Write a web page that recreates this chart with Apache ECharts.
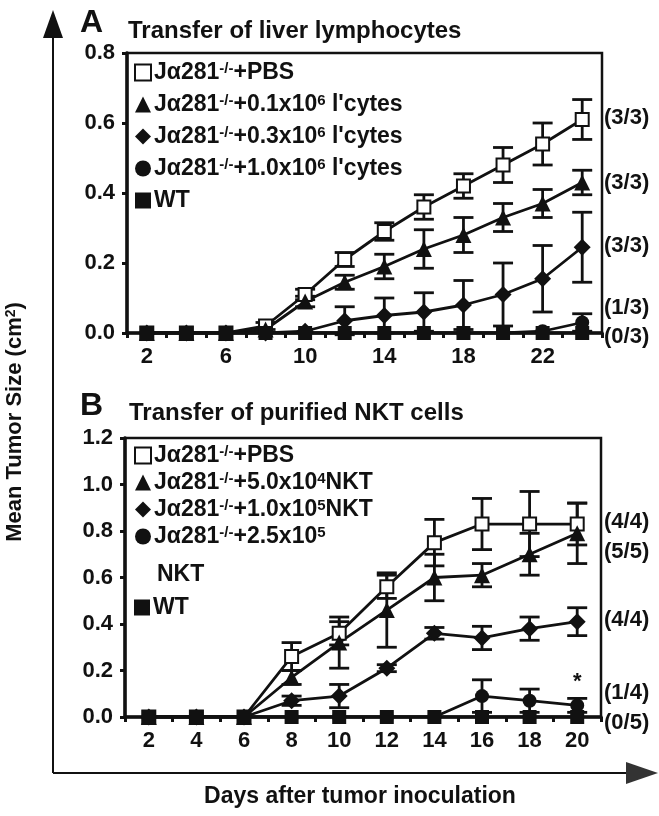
<!DOCTYPE html>
<html>
<head>
<meta charset="utf-8">
<title>Tumor size</title>
<script src="https://cdn.jsdelivr.net/npm/echarts@6/dist/echarts.min.js"></script>
<style>
  html, body { margin: 0; padding: 0; background: #fff; }
  #chart { width: 659px; height: 816px; }
</style>
</head>
<body>
<div id="chart"></div>
<script>
// ---- data: panel A (liver lymphocytes) ----
var daysA = [2, 4, 6, 8, 10, 12, 14, 16, 18, 20, 22, 24];
var pbsA = [0, 0, 0, 0.02, 0.11, 0.21, 0.29, 0.36, 0.42, 0.48, 0.54, 0.61];
var pbsAErr = [0, 0, 0, 0.01, 0.015, 0.02, 0.025, 0.035, 0.035, 0.05, 0.06, 0.057];
var lowA = [0, 0, 0, 0.01, 0.09, 0.145, 0.19, 0.24, 0.28, 0.33, 0.37, 0.43];
var lowAErr = [0, 0, 0, 0, 0.015, 0.02, 0.035, 0.055, 0.05, 0.04, 0.04, 0.035];
var midA = [0, 0, 0, 0, 0.005, 0.035, 0.05, 0.06, 0.08, 0.11, 0.155, 0.245];
var midAErr = [0, 0, 0, 0, 0, 0.04, 0.05, 0.055, 0.07, 0.09, 0.095, 0.1];
var highA = [0, 0, 0, 0, 0, 0, 0, 0, 0, 0, 0.005, 0.03];
var highAErr = [0, 0, 0, 0, 0, 0, 0, 0, 0, 0, 0, 0.025];
var wtA = [0, 0, 0, 0, 0, 0, 0, 0, 0, 0, 0, 0];

// ---- data: panel B (purified NKT cells) ----
var daysB = [2, 4, 6, 8, 10, 12, 14, 16, 18, 20];
var pbsB = [0, 0, 0, 0.26, 0.36, 0.56, 0.75, 0.83, 0.83, 0.83];
var pbsBErr = [0, 0, 0, 0.06, 0.05, 0.05, 0.1, 0.11, 0.14, 0.09];
var lowB = [0, 0, 0, 0.17, 0.32, 0.46, 0.6, 0.61, 0.7, 0.79];
var lowBErr = [0, 0, 0, 0.03, 0.11, 0.16, 0.1, 0.05, 0.09, 0.13];
var midB = [0, 0, 0, 0.07, 0.09, 0.21, 0.36, 0.34, 0.38, 0.41];
var midBErr = [0, 0, 0, 0.02, 0.05, 0.015, 0.025, 0.05, 0.05, 0.06];
var highB = [0, 0, 0, 0, 0, 0, 0, 0.09, 0.07, 0.05];
var highBErr = [0, 0, 0, 0, 0, 0, 0, 0.07, 0.05, 0.03];
var wtB = [0, 0, 0, 0, 0, 0, 0, 0, 0, 0];

// tick labels and side annotations
var xLabelsA = [2, 6, 10, 14, 18, 22];
var xLabelsB = [2, 4, 6, 8, 10, 12, 14, 16, 18, 20];
var fracA = ['(3/3)', '(3/3)', '(3/3)', '(1/3)', '(0/3)'];
var fracB = ['(4/4)', '(5/5)', '(4/4)', '(1/4)', '(0/5)'];

var FONT = '"Liberation Sans", Arial, Helvetica, sans-serif';
var INK = '#111';

function pairs(xs, ys) {
    return xs.map(function (x, i) { return [x, ys[i]]; });
}
function errs(xs, ys, es) {
    var out = [];
    xs.forEach(function (x, i) {
        if (es[i] > 0) out.push([x, ys[i] - es[i], ys[i] + es[i]]);
    });
    return out;
}

function errRender(params, api) {
    var x = api.value(0);
    var top = api.coord([x, api.value(2)]);
    var bot = api.coord([x, api.value(1)]);
    var w = 10;
    var st = { stroke: INK, lineWidth: 2.8 };
    return {
        type: 'group',
        children: [
            { type: 'line', shape: { x1: top[0], y1: top[1], x2: bot[0], y2: bot[1] }, style: st },
            { type: 'line', shape: { x1: top[0] - w, y1: top[1], x2: top[0] + w, y2: top[1] }, style: st },
            { type: 'line', shape: { x1: bot[0] - w, y1: bot[1], x2: bot[0] + w, y2: bot[1] }, style: st }
        ]
    };
}

var markers = {
    pbs: { symbol: 'rect', size: 13, fill: '#fff' },
    low: { symbol: 'triangle', size: 16, fill: INK },
    mid: { symbol: 'diamond', size: 17, fill: INK },
    high: { symbol: 'circle', size: 14, fill: INK },
    wt: { symbol: 'rect', size: 14, fill: INK }
};

function lineSeries(name, key, idx, xs, ys, extra) {
    var m = markers[key];
    var s = {
        name: name,
        type: 'line',
        xAxisIndex: idx,
        yAxisIndex: idx,
        data: pairs(xs, ys),
        symbol: m.symbol,
        symbolSize: m.size,
        showAllSymbol: true,
        z: 5,
        lineStyle: { color: INK, width: 2.8 },
        itemStyle: { color: m.fill, borderColor: INK, borderWidth: key === 'pbs' ? 2 : 0, opacity: 1 },
        emphasis: { disabled: true },
        animation: false
    };
    if (extra) Object.assign(s, extra);
    return s;
}
function errSeries(idx, xs, ys, es) {
    return {
        type: 'custom',
        xAxisIndex: idx,
        yAxisIndex: idx,
        data: errs(xs, ys, es),
        renderItem: errRender,
        z: 3,
        silent: true,
        animation: false
    };
}

var rich = {
    n: { fontFamily: FONT, fontSize: 23, lineHeight: 23, fontWeight: 'bold', color: INK },
    s: { fontFamily: FONT, fontSize: 15, lineHeight: 23, fontWeight: 'bold', color: INK, verticalAlign: 'top', padding: [0, 0, 8, 0] }
};
var legendText = {
    'A-pbs': '{n|Jα281}{s|-/-}{n|+PBS}',
    'A-low': "{n|Jα281}{s|-/-}{n|+0.1x10}{s|6}{n| l'cytes}",
    'A-mid': "{n|Jα281}{s|-/-}{n|+0.3x10}{s|6}{n| l'cytes}",
    'A-high': "{n|Jα281}{s|-/-}{n|+1.0x10}{s|6}{n| l'cytes}",
    'A-wt': '{n|WT}',
    'B-pbs': '{n|Jα281}{s|-/-}{n|+PBS}',
    'B-low': '{n|Jα281}{s|-/-}{n|+5.0x10}{s|4}{n|NKT}',
    'B-mid': '{n|Jα281}{s|-/-}{n|+1.0x10}{s|5}{n|NKT}',
    'B-high': '{n|Jα281}{s|-/-}{n|+2.5x10}{s|5}',
    'B-wt': '{n|WT}'
};
var legendIcons = { pbs: 'rect', low: 'triangle', mid: 'diamond', high: 'circle', wt: 'rect' };
function legend(names, left, top, gap) {
    return {
        orient: 'vertical',
        left: left,
        top: top,
        itemWidth: 16,
        itemHeight: 16,
        itemGap: gap,
        padding: 0,
        selectedMode: false,
        data: names.map(function (n) {
            return { name: n, icon: legendIcons[n.split('-')[1]] };
        }),
        formatter: function (n) { return legendText[n]; },
        textStyle: { rich: rich, padding: [0, 0, 0, -2] }
    };
}

function xAxis(idx, min, max, labels) {
    return {
        type: 'value',
        gridIndex: idx,
        min: min,
        max: max,
        interval: 1,
        axisLine: { show: true, onZero: false, lineStyle: { color: INK, width: 3.5 } },
        axisTick: { show: true, length: 5, lineStyle: { color: INK, width: 3 } },
        splitLine: { show: false },
        axisLabel: {
            margin: 13,
            fontFamily: FONT, fontSize: 22, fontWeight: 'bold', color: INK,
            formatter: function (v) { return labels.indexOf(v) >= 0 ? String(v) : ''; }
        }
    };
}
function yAxis(idx, max) {
    return {
        type: 'value',
        gridIndex: idx,
        min: 0,
        max: max,
        interval: 0.2,
        axisLine: { show: true, lineStyle: { color: INK, width: 3.5 } },
        axisTick: { show: true, length: 5, lineStyle: { color: INK, width: 3 } },
        splitLine: { show: false },
        axisLabel: {
            margin: 12,
            fontFamily: FONT, fontSize: 22, fontWeight: 'bold', color: INK,
            formatter: function (v) { return v.toFixed(1); }
        }
    };
}

function txt(x, y, text, size, extra) {
    var st = { x: x, y: y, text: text, fill: INK, font: 'bold ' + size + 'px ' + FONT, textVerticalAlign: 'middle' };
    if (extra) Object.assign(st, extra);
    return { type: 'text', style: st, silent: true };
}

var fracAY = [118, 183, 246, 308, 337];
var fracBY = [522, 552, 620, 693, 723];
var graphics = [
    // outer arrows
    { type: 'line', shape: { x1: 53, y1: 34, x2: 53, y2: 773 }, style: { stroke: INK, lineWidth: 2 } },
    { type: 'polygon', shape: { points: [[53, 10], [43, 38], [63, 38]] }, style: { fill: INK } },
    { type: 'line', shape: { x1: 53, y1: 773, x2: 632, y2: 773 }, style: { stroke: INK, lineWidth: 2 } },
    { type: 'polygon', shape: { points: [[658, 773], [626, 762], [626, 784]] }, style: { fill: '#333' } },
    // panel titles
    txt(80, 23, 'A', 32),
    txt(128, 31, 'Transfer of liver lymphocytes', 24),
    txt(80, 406, 'B', 32),
    txt(129, 413, 'Transfer of purified NKT cells', 24),
    txt(157, 575, 'NKT', 23),
    // axis titles
    txt(360, 797, 'Days after tumor inoculation', 23, { textAlign: 'center' }),
    {
        type: 'text', x: 15, y: 422, rotation: Math.PI / 2, silent: true,
        style: {
            text: '{t|Mean Tumor Size (cm}{u|2}{t|)}', textAlign: 'center', textVerticalAlign: 'middle',
            rich: {
                t: { fontFamily: FONT, fontSize: 22, lineHeight: 22, fontWeight: 'bold', fill: INK },
                u: { fontFamily: FONT, fontSize: 14, lineHeight: 22, fontWeight: 'bold', fill: INK, verticalAlign: 'top', padding: [0, 0, 8, 0] }
            }
        }
    }
];
fracA.forEach(function (t, i) { graphics.push(txt(604, fracAY[i], t, 22)); });
fracB.forEach(function (t, i) { graphics.push(txt(604, fracBY[i], t, 22)); });

var chart = echarts.init(document.getElementById('chart'), null, { renderer: 'canvas' });
chart.setOption({
    backgroundColor: '#fff',
    animation: false,
    grid: [
        { left: 127, top: 53, width: 475, height: 280, show: true, borderColor: INK, borderWidth: 2.5, backgroundColor: 'transparent' },
        { left: 125, top: 438, width: 476, height: 279, show: true, borderColor: INK, borderWidth: 2.5, backgroundColor: 'transparent' }
    ],
    xAxis: [xAxis(0, 1, 25, xLabelsA), xAxis(1, 1, 21, xLabelsB)],
    yAxis: [yAxis(0, 0.8), yAxis(1, 1.2)],
    legend: [
        legend(['A-pbs', 'A-low', 'A-mid', 'A-high', 'A-wt'], 134, 61, 9),
        legend(['B-pbs', 'B-low', 'B-mid', 'B-high'], 134, 444, 4),
        legend(['B-wt'], 134, 596, 4)
    ],
    graphic: graphics,
    series: [
        errSeries(0, daysA, pbsA, pbsAErr),
        errSeries(0, daysA, lowA, lowAErr),
        errSeries(0, daysA, midA, midAErr),
        errSeries(0, daysA, highA, highAErr),
        lineSeries('A-pbs', 'pbs', 0, daysA, pbsA),
        lineSeries('A-low', 'low', 0, daysA, lowA),
        lineSeries('A-mid', 'mid', 0, daysA, midA),
        lineSeries('A-high', 'high', 0, daysA, highA),
        lineSeries('A-wt', 'wt', 0, daysA, wtA),

        errSeries(1, daysB, pbsB, pbsBErr),
        errSeries(1, daysB, lowB, lowBErr),
        errSeries(1, daysB, midB, midBErr),
        errSeries(1, daysB, highB, highBErr),
        lineSeries('B-pbs', 'pbs', 1, daysB, pbsB),
        lineSeries('B-low', 'low', 1, daysB, lowB),
        lineSeries('B-mid', 'mid', 1, daysB, midB),
        lineSeries('B-high', 'high', 1, daysB, highB, {
            markPoint: {
                symbol: 'circle', symbolSize: 1, silent: true,
                itemStyle: { color: 'transparent' },
                label: { show: true, formatter: '*', position: 'top', distance: 12, fontFamily: FONT, fontSize: 22, fontWeight: 'bold', color: INK },
                data: [{ coord: [20, highB[9]] }]
            }
        }),
        lineSeries('B-wt', 'wt', 1, daysB, wtB)
    ]
});
</script>
</body>
</html>
